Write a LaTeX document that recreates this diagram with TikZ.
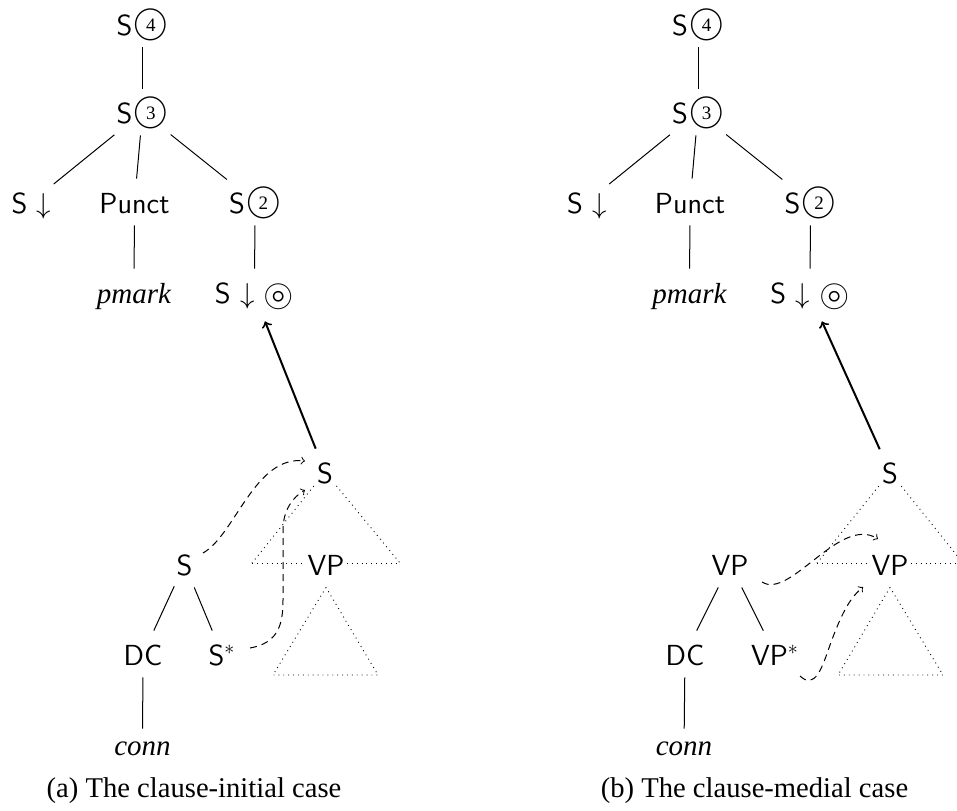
\documentclass[tikz,border=0pt]{standalone}
\usepackage{amssymb}
\usepackage{fontspec}
\setmainfont{Liberation Serif}
\makeatletter
\newcommand{\vcbox}[2]{\raisebox{\dimexpr #1-0.5\ht\@tempboxa+0.5\dp\@tempboxa\relax}{#2}}
\makeatother
\newcommand{\cnum}[1]{\kern0.6pt\ooalign{\hfil\vcbox{5pt}{\rmfamily\fontsize{9.5}{9.5}\selectfont #1}\hfil\crcr\vcbox{5pt}{\fontsize{16}{16}\selectfont$\bigcirc$}}}
\newcommand{\ccirc}{\vcbox{2.9pt}{\fontsize{19.5}{19.5}\selectfont$\circledcirc$}}
\begin{document}
\begin{tikzpicture}[x=0.5pt,y=-0.5pt,
  tn/.style={font=\sffamily\fontsize{14.5}{17}\selectfont, inner xsep=1pt, inner ysep=0pt, text height=17pt, text depth=6pt, anchor=base},
  lf/.style={tn, font=\rmfamily\itshape\fontsize{14.5}{17}\selectfont},
  edge/.style={line width=0.5pt},
  adj/.style={->, line width=1pt},
  dsh/.style={->, line width=0.5pt, dash pattern=on 3.5pt off 2.5pt},
  tri/.style={line width=0.45pt, dotted},
  captext/.style={font=\rmfamily\fontsize{14.3}{17}\selectfont, anchor=base, inner sep=0pt}]
\useasboundingbox (0,0) rectangle (957,810);

% ---------------- panel (a) ----------------
\node[tn] (S4a) at (142.5,35) {S\cnum{4}};
\node[tn] (S3a) at (142.5,123) {S\cnum{3}};
\node[tn] (Sda) at (31.5,213) {S $\downarrow$};
\node[tn] (Pa) at (134.5,213) {Punct};
\node[tn] (S2a) at (255,213) {S\cnum{2}};
\node[lf] (pma) at (134,303) {pmark};
\node[tn, text depth=9pt] (Sdca) at (254.5,303) {S $\downarrow$ \ccirc};

\draw[edge] (S4a) -- (S3a);
\draw[edge] (S3a) -- (Sda);
\draw[edge] (S3a) -- (Pa);
\draw[edge] (S3a) -- (S2a);
\draw[edge] (Pa) -- (pma);
\draw[edge] (S2a) -- (Sdca);

\node[tn] (SLa) at (325,483) {S};
\node[tn] (VPa) at (326,575) {VP};
\node[tn] (Sa) at (184.5,575) {S};
\node[tn] (DCa) at (143,665) {DC};
\node[tn] (Ssa) at (222,665) {S$^*$};
\node[lf, text height=13pt] (conna) at (142.5,755) {conn};

\draw[edge] (Sa) -- (DCa);
\draw[edge] (Sa) -- (Ssa);
\draw[edge] (DCa) -- (conna);

\draw[adj] (SLa) -- (Sdca);

\coordinate (t1al) at (252,563);
\coordinate (t1ar) at (400,563);
\coordinate (t2al) at (273,675);
\coordinate (t2ar) at (378,675);
\draw[tri, shorten <=9pt] (SLa.center) -- (t1al);
\draw[tri, shorten <=9pt] (SLa.center) -- (t1ar);
\draw[tri] (t1al) -- (t1al -| VPa.west);
\draw[tri] (t1ar -| VPa.east) -- (t1ar);
\draw[tri] (VPa.south) -- (t2al) -- (t2ar) -- cycle;

\draw[dsh] ([shift={(18.5,-11)}]Sa.center) .. controls +(32,-18) and +(-50,-6) .. ([shift={(-20,-11)}]SLa.center);
\coordinate (w1) at (283,600);
\coordinate (w2) at (283,530);
\draw[dsh] ([shift={(28,-6)}]Ssa.center) .. controls +(28,-5) and +(0,25) .. (w1) -- (w2) .. controls +(0,-20) and +(-12,7) .. ([shift={(-20,18)}]SLa.center);

\node[captext] (capa) at (194,797) {(a) The clause-initial case};

% ---------------- panel (b) ----------------
\node[tn] (S4b) at (698,35) {S\cnum{4}};
\node[tn] (S3b) at (698,123) {S\cnum{3}};
\node[tn] (Sdb) at (587,213) {S $\downarrow$};
\node[tn] (Pb) at (690,213) {Punct};
\node[tn] (S2b) at (810.5,213) {S\cnum{2}};
\node[lf] (pmb) at (689.5,303) {pmark};
\node[tn, text depth=9pt] (Sdcb) at (810,303) {S $\downarrow$ \ccirc};

\draw[edge] (S4b) -- (S3b);
\draw[edge] (S3b) -- (Sdb);
\draw[edge] (S3b) -- (Pb);
\draw[edge] (S3b) -- (S2b);
\draw[edge] (Pb) -- (pmb);
\draw[edge] (S2b) -- (Sdcb);

\node[tn] (SLb) at (890,483) {S};
\node[tn] (VPb) at (890,575) {VP};
\node[tn] (VPl) at (730,575) {VP};
\node[tn] (DCb) at (685,665) {DC};
\node[tn] (VPsb) at (775,665) {VP$^*$};
\node[lf, text height=13pt] (connb) at (684,755) {conn};

\draw[edge] (VPl) -- (DCb);
\draw[edge] (VPl) -- (VPsb);
\draw[edge] (DCb) -- (connb);

\draw[adj] (SLb) -- (Sdcb);

\coordinate (t1bl) at (817,563);
\coordinate (t1br) at (963,563);
\coordinate (t2bl) at (838,675);
\coordinate (t2br) at (943,675);
\draw[tri, shorten <=9pt] (SLb.center) -- (t1bl);
\draw[tri, shorten <=9pt] (SLb.center) -- (t1br);
\draw[tri] (t1bl) -- (t1bl -| VPb.west);
\draw[tri] (t1br -| VPb.east) -- (t1br);
\draw[tri] (VPb.south) -- (t2bl) -- (t2br) -- cycle;

\draw[dsh] ([shift={(32,18)}]VPl.center) .. controls +(28,18) and +(-38,-24) .. ([shift={(-12,-25)}]VPb.center);
\coordinate (w3) at (830,645);
\draw[dsh] ([shift={(25,22)}]VPsb.center) .. controls +(15,14) and +(-8,23) .. (w3) .. controls +(12,-33) and +(-13,11) .. ([shift={(-27,23)}]VPb.center);

\node[captext] (capb) at (754.5,797) {(b) The clause-medial case};
\end{tikzpicture}
\end{document}
